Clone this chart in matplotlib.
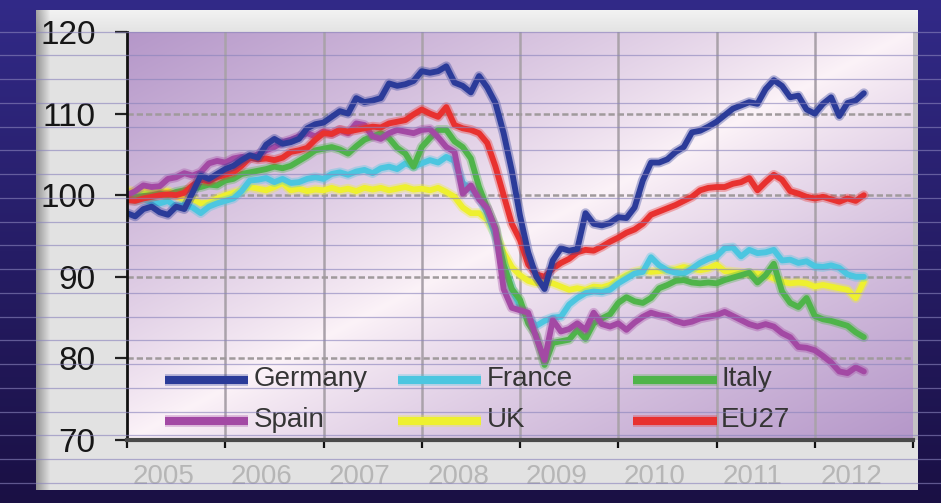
import numpy as np
import matplotlib
matplotlib.use("Agg")
import matplotlib.pyplot as plt
from matplotlib import patheffects as pe
from matplotlib.colors import to_rgb

plt.rcParams['font.family'] = ['Liberation Sans', 'DejaVu Sans']

# ---------------------------------------------------------------- data
# monthly index values (2005 = 100), Jan 2005 .. Jul 2012
start_year = 2005
germany = [97.8, 97.4, 98.3, 98.6, 97.9, 97.6, 98.6, 98.3, 100.3, 102.4, 102.0, 102.6,
           103.2, 103.6, 104.3, 104.9, 104.6, 106.2, 106.9, 106.3, 106.5, 106.9, 108.2, 108.7,
           108.9, 109.6, 110.3, 110.0, 111.9, 111.4, 111.6, 111.9, 113.7, 113.4, 113.6, 114.0,
           115.2, 115.0, 115.2, 115.8, 113.8, 113.4, 112.6, 114.6, 113.2, 111.3, 107.6, 103.0,
           97.5, 93.0, 90.0, 88.5, 92.0, 93.5, 93.2, 93.4, 97.8, 96.5, 96.3, 96.6,
           97.3, 97.2, 98.5, 101.8, 104.0, 104.0, 104.4, 105.3, 105.9, 107.7, 107.9, 108.4,
           109.0, 109.8, 110.6, 111.0, 111.4, 111.2, 113.0, 114.1, 113.4, 112.0, 112.2, 110.5,
           110.0, 111.2, 112.0, 109.7, 111.3, 111.6, 112.5]
france = [99.6, 99.3, 99.5, 99.2, 99.0, 99.3, 98.6, 98.8, 98.5, 97.8, 98.6, 99.0,
          99.3, 99.6, 100.5, 101.8, 101.9, 102.1, 101.6, 102.0, 101.5, 101.6, 102.0, 102.2,
          102.0, 102.6, 102.8, 102.5, 102.9, 103.1, 102.7, 103.3, 103.5, 103.2, 103.9, 103.5,
          103.9, 104.3, 104.0, 104.7, 104.2, 101.5, 100.8, 99.8, 97.8, 95.0, 91.5, 88.5,
          86.3, 85.0, 84.0, 84.6, 85.0, 85.1, 86.6, 87.4, 88.0, 88.2, 88.1, 88.4,
          89.2, 89.8, 90.4, 90.6, 92.4, 91.4, 90.8, 90.5, 90.4, 91.0, 91.7, 92.2,
          92.5, 93.5, 93.6, 92.5, 93.3, 92.9, 93.0, 93.3, 92.0, 92.1, 91.7, 91.9,
          91.3, 91.2, 91.4, 91.1, 90.3, 90.0, 90.0]
italy = [99.6, 99.8, 99.9, 100.0, 100.2, 100.0, 100.4, 100.6, 100.8, 101.0, 101.3, 101.2,
         101.8, 102.0, 102.6, 102.8, 103.0, 103.2, 103.5, 103.3, 103.6, 104.2, 104.8, 105.5,
         105.7, 105.9, 105.6, 105.1, 106.0, 106.8, 107.2, 107.6, 107.0, 105.8, 105.1, 103.5,
         105.9, 107.0, 108.0, 108.0, 106.6, 105.9, 104.5, 101.0, 98.4, 96.0, 91.5, 88.5,
         87.2, 84.3, 82.8, 79.2, 81.9, 82.1, 82.3, 83.5, 82.4, 84.3, 84.9, 85.4,
         86.8, 87.5, 87.0, 86.8, 87.4, 88.6, 89.0, 89.5, 89.6, 89.3, 89.2, 89.3,
         89.2, 89.6, 89.9, 90.2, 90.5, 89.3, 90.2, 91.6, 88.2, 86.8, 86.3, 87.4,
         85.2, 84.8, 84.6, 84.3, 84.0, 83.2, 82.6]
spain = [100.0, 100.5, 101.2, 101.0, 101.1, 102.0, 102.2, 102.7, 102.4, 102.8, 103.9, 104.2,
         104.0, 104.5, 104.7, 104.5, 105.0, 105.5, 105.9, 106.5, 106.8, 107.2, 107.6, 107.2,
         107.8, 107.5, 108.0, 107.6, 108.8, 108.6, 107.2, 106.9, 107.6, 108.0, 107.8, 107.6,
         108.0, 108.1, 107.1, 105.9, 105.3, 100.2, 101.2, 99.5, 98.4, 95.8, 88.5, 86.2,
         85.9, 85.6, 82.5, 79.8, 84.7, 83.3, 83.6, 84.3, 83.5, 85.6, 84.2, 83.9,
         84.3, 83.5, 84.4, 85.1, 85.6, 85.3, 85.1, 84.6, 84.3, 84.5, 84.9, 85.1,
         85.3, 85.7, 85.2, 84.7, 84.2, 83.9, 84.2, 83.9, 83.1, 82.6, 81.4, 81.3,
         81.0, 80.3, 79.5, 78.4, 78.2, 78.9, 78.4]
uk = [100.6, 100.4, 100.5, 100.6, 100.4, 100.5, 100.0, 99.4, 99.5, 99.0, 99.1, 99.6,
      100.0, 100.3, 100.6, 101.0, 100.8, 100.6, 101.0, 101.5, 100.6, 100.8, 100.5, 100.7,
      100.6, 100.9, 100.6, 100.8, 100.5, 100.9, 100.7, 100.9, 100.6, 100.8, 101.0, 100.7,
      100.8, 100.6, 100.9, 100.4, 99.8, 98.5, 97.8, 97.8, 97.0, 95.2, 93.0, 91.2,
      90.2, 89.5, 89.2, 89.3, 89.2, 88.8, 88.4, 88.6, 88.4, 88.8, 88.7, 89.0,
      89.6, 90.2, 90.6, 90.8, 90.6, 90.7, 90.8, 90.9, 91.2, 91.0, 90.8, 91.0,
      91.5, 90.7, 90.6, 90.5, 90.4, 90.4, 90.2, 89.8, 89.4, 89.2, 89.3, 89.2,
      88.8, 89.0, 88.8, 88.6, 88.4, 87.4, 89.4]
eu27 = [99.4, 99.3, 99.6, 99.8, 100.0, 100.1, 100.0, 100.3, 101.2, 101.9, 101.7, 102.2,
        102.5, 102.8, 103.6, 104.6, 104.4, 104.5, 104.3, 104.6, 105.3, 105.5, 105.8, 106.8,
        107.6, 107.5, 108.0, 107.8, 108.0, 108.2, 108.4, 108.3, 108.8, 109.0, 109.2, 109.9,
        110.5, 110.0, 109.6, 110.8, 108.6, 108.2, 108.0, 107.6, 106.4, 103.5, 100.0, 96.5,
        94.5, 91.5, 90.3, 90.0, 91.0, 91.7, 92.2, 93.0, 93.3, 93.2, 93.7, 94.3,
        94.8, 95.4, 95.8, 96.5, 97.6, 98.0, 98.4, 98.8, 99.3, 99.8, 100.6, 100.9,
        101.0, 101.0, 101.4, 101.6, 102.1, 100.6, 101.6, 102.5, 101.9, 100.5, 100.2, 99.8,
        99.6, 99.8, 99.5, 99.2, 99.6, 99.3, 100.0]

series_names = ["Germany", "France", "Italy", "Spain", "UK", "EU27"]
series_values = [germany, france, italy, spain, uk, eu27]
series_colors = ["#2b3b99", "#4cc6e0", "#4fb44a", "#a349a4", "#eef030", "#e8312f"]
series_z = [8, 4, 5, 6, 3, 7]

year_labels = ["2005", "2006", "2007", "2008", "2009", "2010", "2011", "2012"]
y_ticks = [70, 80, 90, 100, 110, 120]

# ---------------------------------------------------------------- figure
W, H = 941, 503
fig = plt.figure(figsize=(W / 100, H / 100), dpi=100)

# slide backdrop (pixel coordinates)
bg = fig.add_axes([0, 0, 1, 1], zorder=0)
bg.set_xlim(0, W)
bg.set_ylim(H, 0)
bg.axis('off')
g = np.linspace(0, 1, H)[:, None, None]
top_c = np.array(to_rgb('#322a88'))
bot_c = np.array(to_rgb('#1a1044'))
bg.imshow(top_c * (1 - g) + bot_c * g, extent=(0, W, H, 0), aspect='auto',
          interpolation='bilinear')

# light grey chart panel
px0, px1, py0, py1 = 36, 918, 10, 490
xx = np.arange(px1 - px0)[None, :]
yy = np.arange(py1 - py0)[:, None]
panel = 0.89 + 0.0 * xx + 0.0 * yy
panel = panel - 0.30 * np.clip(1 - xx / 14.0, 0, 1)          # shaded left edge
panel = panel + 0.06 * np.clip(1 - yy / 22.0, 0, 1)          # brighter top rim
panel = np.clip(panel, 0, 1)
bg.imshow(np.dstack([panel] * 3), extent=(px0, px1, py1, py0), aspect='auto',
          interpolation='bilinear')
bg.add_patch(plt.Rectangle((913, 32), 5, 408, color='#c4c2c4', lw=0))

# ---------------------------------------------------------------- plot area
L, R, T, B = 127, 913, 32, 440
ax = fig.add_axes([L / W, 1 - B / H, (R - L) / W, (B - T) / H], zorder=2)
ax.set_xlim(2005, 2013)
ax.set_ylim(70, 120)

# purple/white diagonal wash behind the plot
u = np.linspace(0, 1, 200)[None, :]
v = np.linspace(0, 1, 200)[:, None]
t = np.clip(np.abs(u + v - 1.0), 0, 1) ** 0.85
purple = np.array(to_rgb('#b597c9'))
white = np.array(to_rgb('#fcf3f8'))
wash = white * (1 - t[..., None]) + purple * t[..., None]
ax.imshow(wash, extent=(2005, 2013, 70, 120), aspect='auto', zorder=0,
          interpolation='bilinear')

# grid
for yr in range(2006, 2013):
    ax.axvline(yr, color='#aaa2aa', lw=1.8, zorder=1)
for yv in (80, 90, 100, 110):
    ax.axhline(yv, color='#a09a9c', lw=1.8, ls=(0, (2.5, 1.2)), zorder=1)

# series
months = np.arange(len(germany))
xs = start_year + months / 12.0
for name, vals, col, z in zip(series_names, series_values, series_colors, series_z):
    ax.plot(xs, vals, color=col, lw=4.2, solid_joinstyle='round',
            solid_capstyle='round', zorder=z,
            path_effects=[pe.Stroke(linewidth=7.0, foreground=col, alpha=0.35),
                          pe.Normal()])

# legend drawn as two rows of three entries
fx = lambda p: (p - L) / (R - L)
fy = lambda p: (B - p) / (B - T)
legend_cols = [(165, 248, 254), (398, 481, 487), (633, 717, 721)]
legend_rows = [380, 421]
order = [["Germany", "France", "Italy"], ["Spain", "UK", "EU27"]]
for r, row in enumerate(order):
    for c, name in enumerate(row):
        col = series_colors[series_names.index(name)]
        x0, x1, xt = legend_cols[c]
        yrow = legend_rows[r]
        ax.plot([fx(x0), fx(x1)], [fy(yrow), fy(yrow)], transform=ax.transAxes,
                color=col, lw=5.8, solid_capstyle='butt', zorder=9,
                path_effects=[pe.Stroke(linewidth=8.5, foreground=col, alpha=0.3),
                              pe.Normal()])
        ax.text(fx(xt), fy(yrow - 1), name, transform=ax.transAxes, ha='left',
                va='center', fontsize=20, color='#353535', zorder=9)

# axes styling
for s in ('top', 'right'):
    ax.spines[s].set_visible(False)
ax.spines['left'].set_color('#111111')
ax.spines['left'].set_linewidth(2.0)
ax.spines['bottom'].set_color('#4a4a4a')
ax.spines['bottom'].set_linewidth(3.0)
ax.spines['left'].set_zorder(10)
ax.spines['bottom'].set_zorder(10)

ax.set_yticks(y_ticks)
ax.set_yticklabels([str(v) for v in y_ticks])
ax.tick_params(axis='y', direction='out', length=8.6, width=1.6, color='#222222',
               pad=14, labelsize=24, labelcolor='#161616')

ax.set_xticks(range(2005, 2014))
ax.set_xticklabels([])
ax.set_xticks([y + 0.37 for y in range(2005, 2013)], minor=True)
ax.set_xticklabels(year_labels, minor=True)
ax.tick_params(axis='x', which='major', direction='out', length=6, width=1.6,
               color='#111111')
ax.tick_params(axis='x', which='minor', length=0, pad=17, labelsize=20,
               labelcolor='#b6b6b6')

# ruled lines of the slide, laid over everything
ov = fig.add_axes([0, 0, 1, 1], zorder=20)
ov.set_xlim(0, W)
ov.set_ylim(H, 0)
ov.axis('off')
ov.patch.set_alpha(0)
for k in range(20):
    yl = 31.7 + 23.75 * k
    ov.plot([0, W], [yl, yl], color='#8a84bc', lw=0.9, alpha=0.62)

fig.savefig("out.png", dpi=100)
